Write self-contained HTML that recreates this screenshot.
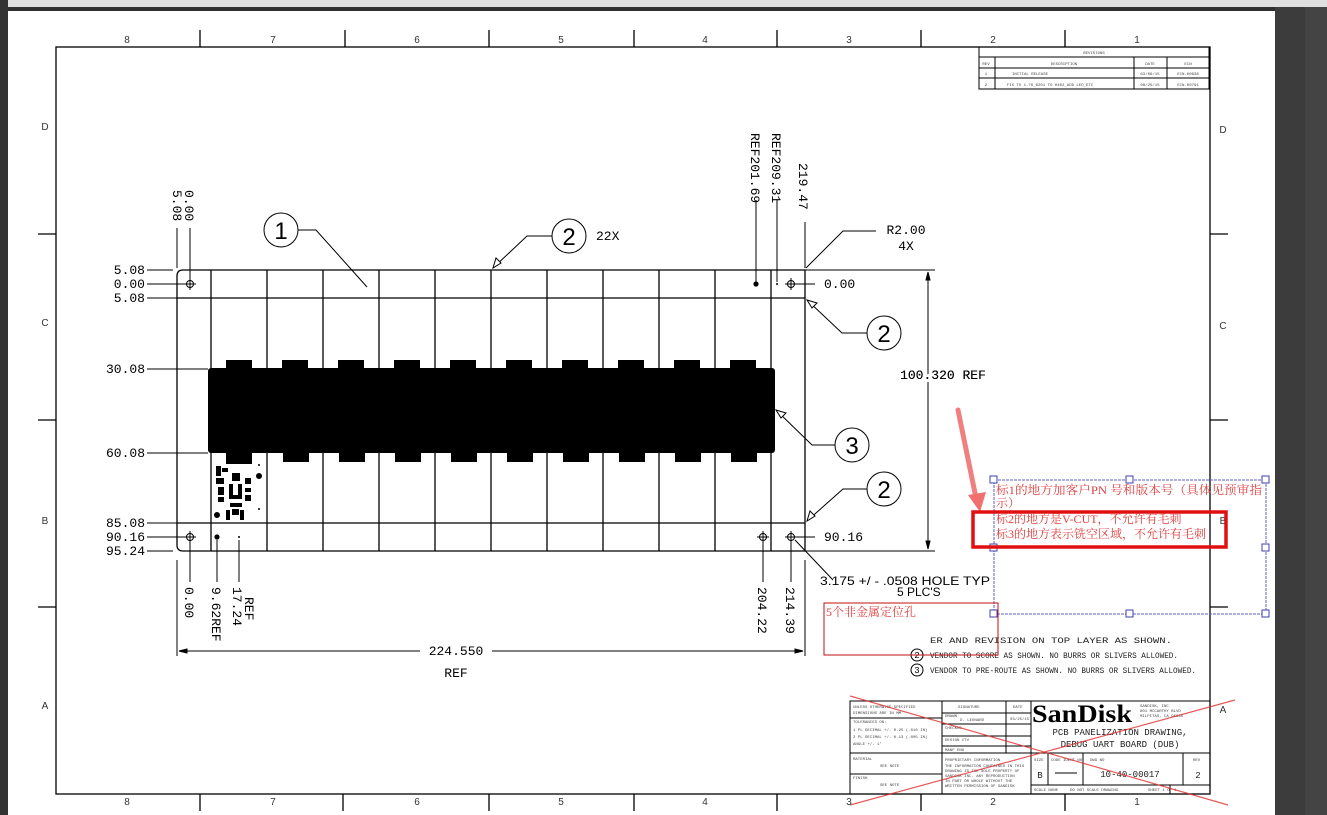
<!DOCTYPE html>
<html><head><meta charset="utf-8"><style>
html,body{margin:0;padding:0;width:1327px;height:815px;overflow:hidden;background:#fff}
svg{display:block}
text{font-family:"Liberation Mono",monospace}
text.sans,.sans text{font-family:"Liberation Sans",sans-serif}
text.serif{font-family:"Liberation Serif",serif}
text.cj,.cj text{font-family:"Liberation Serif","Noto Serif CJK SC","Noto Sans CJK SC",serif}
</style></head><body>
<svg width="1327" height="815" viewBox="0 0 1327 815" xmlns="http://www.w3.org/2000/svg">
<rect x="0" y="0" width="1327" height="815" fill="#fff"/>
<rect x="0" y="0" width="1327" height="7" fill="#e0e0e0"/>
<rect x="0" y="7" width="1327" height="4" fill="#303030"/>
<rect x="0" y="0" width="8" height="815" fill="#333"/>
<rect x="1275" y="7" width="52" height="808" fill="#3c3c3c"/>
<rect x="1305" y="7" width="22" height="808" fill="#444"/>

<g stroke="#000" fill="none" stroke-width="1.3">
<rect x="56" y="47" width="1154" height="747"/>
<path d="M200 30V47M345 30V47M489 30V47M634 30V47M777 30V47M921 30V47M1065 30V47"/>
<path d="M200 794V811M343 794V811M489 794V811M634 794V811M777 794V811M921 794V811M1065 794V811"/>
<path d="M38 234H56M38 420H56M38 607H56M1210 234H1228M1210 420H1228M1210 607H1228"/>
</g>
<g class="sans" font-size="10" fill="#333" text-anchor="middle">
<text x="127" y="43">8</text><text x="273" y="43">7</text><text x="417" y="43">6</text><text x="561" y="43">5</text><text x="705" y="43">4</text><text x="849" y="43">3</text><text x="993" y="43">2</text><text x="1137" y="43">1</text>
<text x="127" y="805">8</text><text x="273" y="805">7</text><text x="417" y="805">6</text><text x="561" y="805">5</text><text x="705" y="805">4</text><text x="849" y="805">3</text><text x="993" y="805">2</text><text x="1137" y="805">1</text>
<text x="45" y="130">D</text><text x="45" y="326">C</text><text x="45" y="524">B</text><text x="45" y="709">A</text>
<text x="1223" y="133">D</text><text x="1223" y="329">C</text><text x="1223" y="524">B</text><text x="1223" y="713">A</text>
</g>

<g stroke="#000" fill="none" stroke-width="1">
<rect x="979" y="47" width="230" height="42"/>
<path d="M979 57H1209M979 68H1209M979 78H1209M995 57V89M1134 57V89M1167 57V89"/>
</g>
<g font-size="4" fill="#444" text-anchor="middle">
<text x="1094" y="54">REVISIONS</text><text x="986" y="65">REV</text><text x="1064" y="65">DESCRIPTION</text><text x="1150" y="65">DATE</text><text x="1188" y="65">ECN</text>
<text x="986" y="75">1</text><text x="1030" y="75">INITIAL RELEASE</text><text x="1150" y="75">03/09/15</text><text x="1188" y="75">ECN-00638</text>
<text x="986" y="86">2</text><text x="1050" y="86">FIX TO 1.78_0201 TO 0402_ADD LED_ETC</text><text x="1150" y="86">08/25/15</text><text x="1188" y="86">ECN-00791</text>
</g>

<g stroke="#000" fill="none" stroke-width="1.3">
<path d="M183 270H805V551H183Q177 551 177 545V276Q177 270 183 270Z"/>
<path d="M177 298H805M177 523H805"/>
<path d="M211 270V551M267 270V551M323 270V551M379 270V551M435 270V551M491 270V551M547 270V551M603 270V551M659 270V551M715 270V551M771 270V551"/>
</g>
<g fill="#000">
<rect x="208" y="368" width="567" height="85" rx="3"/>
<rect x="226" y="360" width="26" height="10"/><rect x="282" y="360" width="26" height="10"/><rect x="338" y="360" width="26" height="10"/><rect x="394" y="360" width="26" height="10"/><rect x="450" y="360" width="26" height="10"/><rect x="506" y="360" width="26" height="10"/><rect x="562" y="360" width="26" height="10"/><rect x="618" y="360" width="26" height="10"/><rect x="674" y="360" width="26" height="10"/><rect x="730" y="360" width="26" height="10"/>
<rect x="283" y="451" width="26" height="11"/><rect x="339" y="451" width="26" height="11"/><rect x="395" y="451" width="26" height="11"/><rect x="451" y="451" width="26" height="11"/><rect x="507" y="451" width="26" height="11"/><rect x="563" y="451" width="26" height="11"/><rect x="619" y="451" width="26" height="11"/><rect x="675" y="451" width="26" height="11"/><rect x="731" y="451" width="26" height="11"/>
<rect x="226" y="451" width="26" height="13"/>
<rect x="216" y="466" width="5" height="10"/><rect x="222" y="468" width="6" height="4"/><rect x="216" y="478" width="8" height="6"/><rect x="232" y="473" width="8" height="8"/><rect x="229" y="484" width="4" height="14"/><rect x="238" y="484" width="4" height="14"/><rect x="229" y="495" width="13" height="4"/><rect x="245" y="478" width="6" height="6"/><rect x="245" y="488" width="6" height="4"/><rect x="245" y="495" width="6" height="6"/><rect x="218" y="487" width="6" height="8"/><rect x="218" y="497" width="6" height="5"/><rect x="230" y="503" width="12" height="4"/><rect x="226" y="510" width="4" height="10"/><rect x="240" y="510" width="4" height="10"/><rect x="232" y="509" width="7" height="6"/>
<circle cx="217" cy="515" r="3"/><circle cx="259" cy="476" r="3"/><circle cx="259" cy="509" r="1"/><circle cx="217" cy="469" r="1"/><circle cx="259" cy="465" r="1"/>
<circle cx="217" cy="537" r="2.6"/><circle cx="239" cy="537" r="1"/><circle cx="756" cy="284" r="2.6"/><circle cx="777" cy="284" r="1"/>
</g>
<g stroke="#000" fill="none" stroke-width="1">
<circle cx="190" cy="284" r="3.5"/><path d="M184 284H196M190 278V290"/>
<circle cx="791" cy="284" r="3.5"/><path d="M785 284H797M791 278V290"/>
<circle cx="190" cy="537" r="3.5"/><path d="M184 537H196M190 531V543"/>
<circle cx="763" cy="537" r="3.5"/><path d="M757 537H769M763 531V543"/>
<circle cx="791" cy="537" r="3.5"/><path d="M785 537H797M791 531V543"/>
</g>

<g stroke="#000" fill="none" stroke-width="1">
<path d="M147 270H173M147 284H184M147 298H177M147 369H208M147 453H208M147 523H177M147 537H184M147 551H173"/>
<path d="M177 228V268M190 228V278"/>
<path d="M190 543V582M217 540V582M239 540V582M763 543V582M791 543V582"/>
<path d="M756 200V282M777 200V282M805 222V268M797 284H815M797 537H815"/>
<path d="M805 270H935M805 551H935M928 272V549"/>
<path d="M177 560V656M805 560V656M179 651H420M492 651H803"/>
<path d="M928 272l-2 8h4zM928 549l-2 -8h4zM179 651l8 -2v4zM803 651l-8 -2v4z" fill="#000"/>
</g>
<g font-size="13" fill="#000">
<text x="145" y="274" text-anchor="end">5.08</text>
<text x="145" y="288" text-anchor="end">0.00</text>
<text x="145" y="302" text-anchor="end">5.08</text>
<text x="145" y="373" text-anchor="end">30.08</text>
<text x="145" y="457" text-anchor="end">60.08</text>
<text x="145" y="527" text-anchor="end">85.08</text>
<text x="145" y="541" text-anchor="end">90.16</text>
<text x="145" y="555" text-anchor="end">95.24</text>
<text x="824" y="288">0.00</text>
<text x="824" y="541">90.16</text>
<text x="456" y="655" text-anchor="middle">224.550</text>
<text x="456" y="677" text-anchor="middle">REF</text>
<text x="943" y="379" text-anchor="middle" style="paint-order:stroke" stroke="#fff" stroke-width="6">100.320 REF</text>
<text x="943" y="379" text-anchor="middle">100.320 REF</text>
<text x="906" y="234" text-anchor="middle">R2.00</text>
<text x="906" y="250" text-anchor="middle">4X</text>
<text x="596" y="240">22X</text>
<text transform="translate(185,190) rotate(90)">0.00</text>
<text transform="translate(173,190) rotate(90)">5.08</text>
<text transform="translate(751,133) rotate(90)">REF201.69</text>
<text transform="translate(772,133) rotate(90)">REF209.31</text>
<text transform="translate(799,163) rotate(90)">219.47</text>
<text transform="translate(185,587) rotate(90)">0.00</text>
<text transform="translate(212,587) rotate(90)">9.62REF</text>
<text transform="translate(233,587) rotate(90)">17.24</text>
<text transform="translate(245,597) rotate(90)">REF</text>
<text transform="translate(758,587) rotate(90)">204.22</text>
<text transform="translate(786,587) rotate(90)">214.39</text>
</g>
<g class="sans" font-size="12" fill="#000">
<text x="820" y="585" textLength="170" lengthAdjust="spacingAndGlyphs">3.175 +/ - .0508 HOLE TYP</text>
<text x="897" y="596">5 PLC'S</text>
</g>

<g stroke="#000" fill="none" stroke-width="1">
<circle cx="281" cy="230" r="17"/><path d="M298 230H316L367 287"/>
<circle cx="569" cy="236" r="17"/><path d="M552 236H527L493 268"/>
<circle cx="884" cy="333" r="17"/><path d="M867 333H842L807 300"/>
<circle cx="852" cy="445" r="17"/><path d="M835 445H812L776 410"/>
<circle cx="884" cy="489" r="17"/><path d="M867 489H843L807 521"/>
<path d="M876 231H843L806 268"/>
<path d="M833 580L795 540"/>
<path d="M493 268l3 -10l5 5zM807 300l10 3l-5 5zM776 410l10 3l-5 5zM807 521l3 -10l5 5z" fill="#fff"/>
</g>
<g class="sans" font-size="24" fill="#000" text-anchor="middle">
<text x="281" y="239">1</text><text x="569" y="245">2</text><text x="884" y="342">2</text><text x="852" y="454">3</text><text x="884" y="498">2</text>
</g>

<g font-size="8" fill="#222">
<text x="930" y="643" textLength="242" lengthAdjust="spacingAndGlyphs">ER AND REVISION ON TOP LAYER AS SHOWN.</text>
<text x="930" y="658" textLength="248" lengthAdjust="spacingAndGlyphs">VENDOR TO SCORE AS SHOWN. NO BURRS OR SLIVERS ALLOWED.</text>
<text x="930" y="673" textLength="266" lengthAdjust="spacingAndGlyphs">VENDOR TO PRE-ROUTE AS SHOWN. NO BURRS OR SLIVERS ALLOWED.</text>
</g>
<g stroke="#000" fill="none"><circle cx="917" cy="655" r="6"/><circle cx="917" cy="670" r="6"/></g>
<g font-size="9" fill="#000" text-anchor="middle"><text x="917" y="658">2</text><text x="917" y="673">3</text></g>

<g stroke="#000" fill="none" stroke-width="1">
<rect x="850" y="701" width="360" height="93"/>
<path d="M942 701V794M1031 701V794M1006 701V753M850 753H1031M850 774H942M942 713H1031M942 724H1031M942 736H1031M942 746H1031M850 718H942"/>
<path d="M1031 753H1210M1031 785H1210M1048 753V785M1083 753V785M1183 753V785M1170 785V794"/>
</g>
<g font-size="4" fill="#444">
<text x="853" y="708">UNLESS OTHERWISE SPECIFIED</text><text x="853" y="714">DIMENSIONS ARE IN MM</text>
<text x="853" y="723">TOLERANCES ON:</text><text x="853" y="731">1 PL DECIMAL +/- 0.25 (.010 IN)</text><text x="853" y="738">2 PL DECIMAL +/- 0.13 (.005 IN)</text><text x="853" y="745">ANGLE +/- 1°</text>
<text x="853" y="760">MATERIAL</text><text x="880" y="767">SEE NOTE</text><text x="853" y="779">FINISH</text><text x="880" y="786">SEE NOTE</text>
<text x="958" y="708">SIGNATURE</text><text x="1013" y="708">DATE</text><text x="945" y="717">DRAWN</text><text x="960" y="721">D. LEONARD</text><text x="1010" y="720">03/25/15</text>
<text x="945" y="729">CHECKED</text><text x="945" y="741">DESIGN CTV</text><text x="945" y="751">MANF ENG</text>
<text x="945" y="761">PROPRIETARY INFORMATION</text><text x="945" y="767">THE INFORMATION CONTAINED IN THIS</text><text x="945" y="772">DRAWING IS THE SOLE PROPERTY OF</text><text x="945" y="777">SANDISK INC. ANY REPRODUCTION</text><text x="945" y="782">IN PART OR WHOLE WITHOUT THE</text><text x="945" y="787">WRITTEN PERMISSION OF SANDISK</text>
<text x="1034" y="761">SIZE</text><text x="1051" y="761">CODE IDENT NO</text><text x="1090" y="761">DWG NO</text><text x="1193" y="761">REV</text>
<text x="1034" y="791">SCALE NONE</text><text x="1070" y="791">DO NOT SCALE DRAWING</text><text x="1148" y="791">SHEET 1 OF 1</text>
<text x="1140" y="707">SANDISK, INC</text><text x="1140" y="712">601 MCCARTHY BLVD</text><text x="1140" y="717">MILPITAS, CA 95035</text>
</g>
<text class="serif" x="1032" y="722" font-size="25" font-weight="bold" fill="#000" textLength="100" lengthAdjust="spacingAndGlyphs">SanDisk</text>
<g font-size="9" fill="#222" text-anchor="middle">
<text x="1120" y="735">PCB PANELIZATION DRAWING,</text><text x="1120" y="747">DEBUG UART BOARD (DUB)</text>
<text x="1130" y="777">10-40-00017</text><text x="1040" y="778">B</text><text x="1198" y="778">2</text>
</g>
<path d="M1055 773H1077" stroke="#000"/>
<g stroke="#e03030" stroke-width="1.2" opacity="0.8"><path d="M850 696L1228 805M850 805L1235 700"/></g>

<path d="M958 410L976 498" stroke="#f08080" stroke-width="5" stroke-linecap="round"/>
<path d="M968 495L980 512L986 492Z" fill="#f07070"/>
<rect x="994" y="480" width="272" height="134" fill="none" stroke="#6060c0" stroke-width="1" stroke-dasharray="3,1"/>
<g fill="#fff" stroke="#4040b0"><rect x="990" y="476" width="7" height="7"/><rect x="1126" y="476" width="7" height="7"/><rect x="1262" y="476" width="7" height="7"/><rect x="1262" y="544" width="7" height="7"/><rect x="1262" y="610" width="7" height="7"/><rect x="1126" y="610" width="7" height="7"/><rect x="990" y="610" width="7" height="7"/><rect x="990" y="544" width="7" height="7"/></g>
<rect x="973" y="512" width="253" height="35" fill="none" stroke="#e01010" stroke-width="3.5"/>
<g class="cj" font-size="12" fill="#e04040">
<text x="996" y="494" textLength="266" lengthAdjust="spacingAndGlyphs">标1的地方加客户PN 号和版本号（具体见预审指</text>
<text x="996" y="507">示）</text>
<text x="996" y="523">标2的地方是V-CUT，不允许有毛刺</text>
<text x="996" y="538">标3的地方表示铣空区域，不允许有毛刺</text>
<text x="826" y="616">5个非金属定位孔</text>
</g>
<rect x="824" y="603" width="174" height="52" fill="none" stroke="#c01010" stroke-width="1"/>
</svg>
</body></html>
